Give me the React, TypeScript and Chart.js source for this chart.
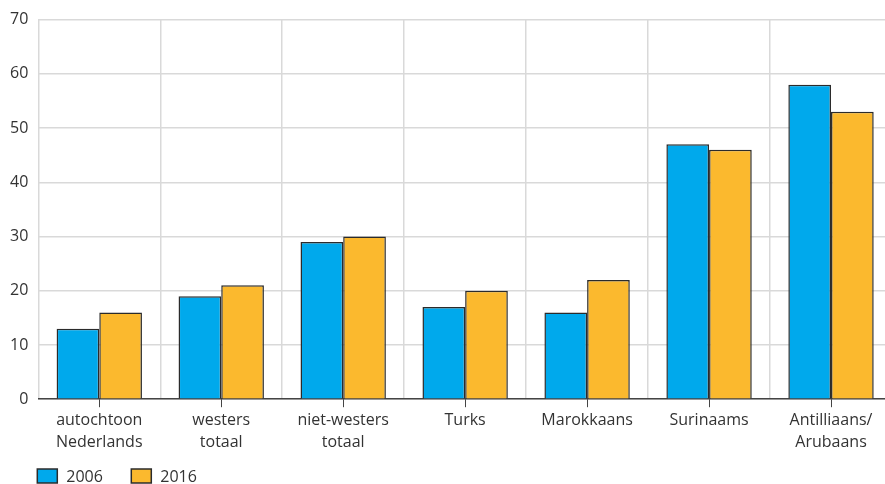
import React, { useEffect, useRef } from "react";
import { Chart, registerables } from "chart.js";

Chart.register(...registerables);

const categories: (string | string[])[] = [
  ["autochtoon", "Nederlands"],
  ["westers", "totaal"],
  ["niet-westers", "totaal"],
  "Turks",
  "Marokkaans",
  "Surinaams",
  ["Antilliaans/", "Arubaans"],
];
const seriesNames = ["2006", "2016"];
const values2006 = [13, 19, 29, 17, 16, 47, 58];
const values2016 = [16, 21, 30, 20, 22, 46, 53];
const yTicks = [0, 10, 20, 30, 40, 50, 60, 70];

const BLUE = "#00a9ec";
const ORANGE = "#fbb92e";
const EDGE = "#2b2b2b";
const FONT = "'Open Sans', 'DejaVu Sans', sans-serif";
const TEXT = "#333333";

const extras = {
  id: "extras",
  afterDraw(chart: any) {
    const ctx = chart.ctx;
    const x = chart.scales.x;
    const area = chart.chartArea;
    ctx.save();
    ctx.strokeStyle = "#444";
    ctx.lineWidth = 1;
    for (let i = 0; i < categories.length; i++) {
      const px = Math.round(x.getPixelForValue(i)) + 0.5;
      ctx.beginPath();
      ctx.moveTo(px, area.bottom);
      ctx.lineTo(px, area.bottom + 8);
      ctx.stroke();
    }
    const colors = [BLUE, ORANGE];
    const ly = 469;
    let lx = area.left - 1;
    ctx.font = `16px ${FONT}`;
    ctx.textBaseline = "middle";
    ctx.textAlign = "left";
    for (let i = 0; i < seriesNames.length; i++) {
      ctx.fillStyle = colors[i];
      ctx.fillRect(lx, ly, 20, 14);
      ctx.strokeStyle = EDGE;
      ctx.lineWidth = 1.5;
      ctx.strokeRect(lx, ly, 20, 14);
      ctx.fillStyle = TEXT;
      ctx.fillText(seriesNames[i], lx + 29, ly + 8);
      lx += 94;
    }
    ctx.restore();
  },
};

export default function App() {
  const ref = useRef<HTMLCanvasElement>(null);
  useEffect(() => {
    if (!ref.current) return;
    const chart = new Chart(ref.current, {
      type: "bar",
      data: {
        labels: categories,
        datasets: [
          {
            label: seriesNames[0],
            data: values2006,
            backgroundColor: BLUE,
            borderColor: EDGE,
            borderWidth: 1.5,
            categoryPercentage: 0.7,
            barPercentage: 1,
          },
          {
            label: seriesNames[1],
            data: values2016,
            backgroundColor: ORANGE,
            borderColor: EDGE,
            borderWidth: 1.5,
            categoryPercentage: 0.7,
            barPercentage: 1,
          },
        ],
      },
      options: {
        responsive: false,
        animation: false,
        layout: { padding: { left: 0, right: 0, top: 9, bottom: 20 } },
        plugins: {
          legend: { display: false },
          tooltip: { enabled: false },
        },
        scales: {
          x: {
            grid: {
              offset: true,
              color: "#d9d9d9",
              lineWidth: 1.5,
              drawTicks: false,
            },
            border: { color: "#444", width: 1.5 },
            ticks: {
              padding: 10,
              color: TEXT,
              font: { family: FONT, size: 16, lineHeight: 1.4 },
              maxRotation: 0,
              autoSkip: false,
            },
          },
          y: {
            min: 0,
            max: 70,
            afterBuildTicks: (s: any) => {
              s.ticks = yTicks.map((v) => ({ value: v }));
            },
            grid: { color: "#d9d9d9", lineWidth: 1.5, drawTicks: false },
            border: { display: false },
            ticks: {
              padding: 10,
              color: TEXT,
              font: { family: FONT, size: 16 },
            },
          },
        },
      },
      plugins: [extras],
    });
    return () => chart.destroy();
  }, []);
  return (
    <div
      style={{
        position: "fixed",
        left: 0,
        top: 0,
        width: 885,
        height: 484,
        overflow: "hidden",
        background: "#fff",
      }}
    >
      <canvas ref={ref} width={892} height={484} style={{ display: "block" }} />
    </div>
  );
}
